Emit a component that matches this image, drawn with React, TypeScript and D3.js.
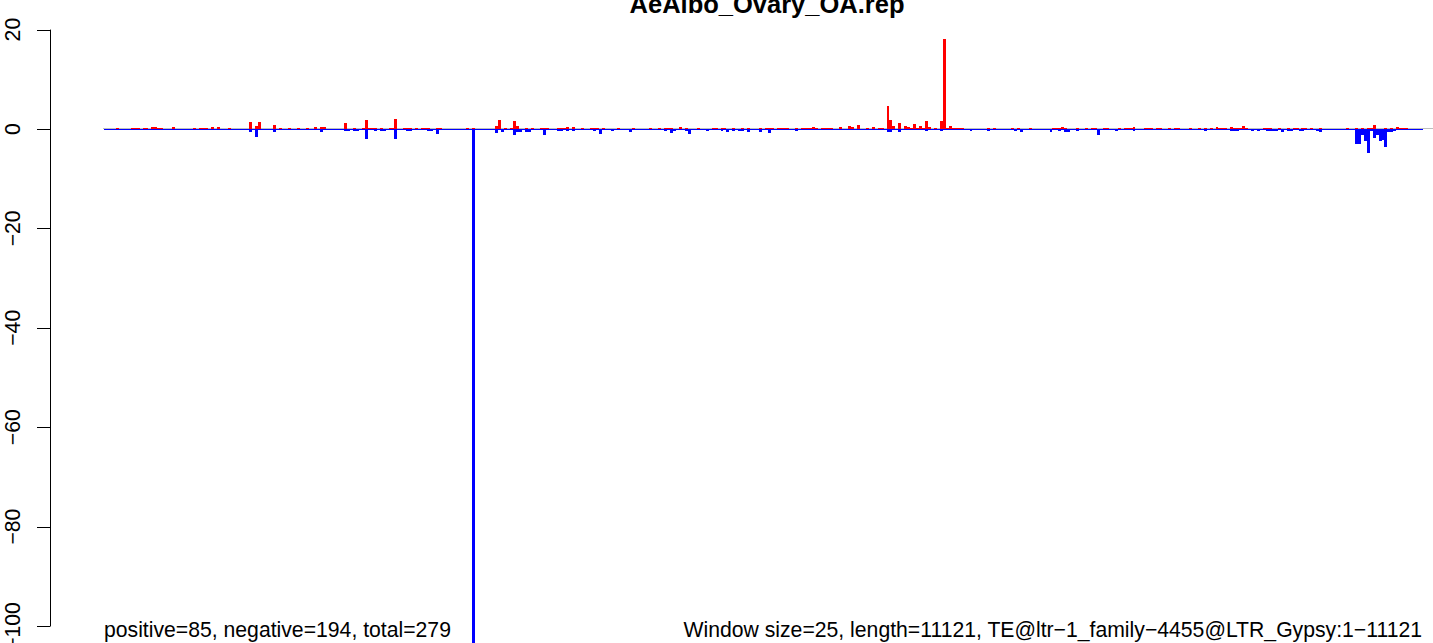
import React from 'react';
import * as d3 from 'd3';

// window index -> value (window size 25, 445 windows)
const posIdx = [4, 9, 10, 11, 13, 14, 16, 17, 18, 19, 23, 30, 32, 33, 34, 36, 38, 42, 49, 51, 52, 57, 59, 62, 65, 68, 71, 73, 74, 81, 84, 87, 88, 89, 90, 91, 93, 96, 97, 98, 101, 102, 103, 105, 107, 108, 109, 112, 113, 122, 124, 132, 133, 135, 137, 138, 139, 142, 144, 147, 148, 149, 153, 154, 155, 156, 158, 161, 164, 165, 166, 168, 173, 178, 184, 187, 189, 190, 191, 194, 196, 200, 205, 206, 208, 209, 212, 215, 217, 221, 223, 224, 225, 227, 228, 229, 230, 233, 235, 236, 237, 238, 239, 240, 242, 243, 244, 245, 248, 251, 252, 254, 257, 259, 261, 262, 264, 265, 266, 268, 270, 271, 272, 273, 274, 275, 276, 277, 278, 280, 282, 283, 284, 285, 286, 287, 288, 289, 298, 300, 306, 308, 312, 320, 321, 322, 323, 324, 328, 331, 333, 334, 337, 338, 342, 344, 345, 346, 347, 351, 352, 353, 355, 356, 359, 361, 362, 366, 369, 371, 373, 375, 376, 377, 378, 380, 381, 382, 383, 384, 385, 391, 392, 393, 396, 399, 401, 402, 404, 405, 407, 410, 419, 422, 424, 426, 427, 428, 432, 434, 436, 437, 438, 439];
const posVal = [0.3, 0.2, 0.2, 0.2, 0.2, 0.2, 0.4, 0.4, 0.2, 0.2, 0.4, 0.2, 0.3, 0.3, 0.3, 0.4, 0.4, 0.3, 1.4, 0.6, 1.4, 0.8, 0.2, 0.2, 0.2, 0.2, 0.4, 0.4, 0.4, 1.2, 0.2, 0.3, 1.8, 0.2, 0.2, 0.2, 0.2, 0.2, 0.2, 2.0, 0.2, 0.2, 0.2, 0.2, 0.2, 0.2, 0.2, 0.3, 0.3, 0.2, 0.2, 0.6, 1.8, 0.2, 0.2, 1.6, 0.6, 0.2, 0.2, 0.2, 0.2, 0.2, 0.2, 0.2, 0.2, 0.4, 0.4, 0.2, 0.2, 0.2, 0.2, 0.2, 0.2, 0.2, 0.2, 0.2, 0.2, 0.2, 0.2, 0.4, 0.2, 0.2, 0.2, 0.2, 0.2, 0.2, 0.2, 0.2, 0.2, 0.2, 0.2, 0.2, 0.2, 0.2, 0.2, 0.2, 0.2, 0.2, 0.2, 0.2, 0.2, 0.2, 0.4, 0.2, 0.2, 0.2, 0.2, 0.2, 0.4, 0.6, 0.4, 0.8, 0.2, 0.4, 0.2, 0.2, 4.6, 1.8, 0.6, 1.2, 0.6, 0.4, 0.2, 1.0, 0.2, 0.6, 0.2, 1.6, 0.4, 0.2, 1.6, 18.1, 0.2, 0.6, 0.2, 0.2, 0.2, 0.2, 0.2, 0.2, 0.2, 0.2, 0.2, 0.2, 0.2, 0.2, 0.4, 0.2, 0.2, 0.2, 0.2, 0.2, 0.2, 0.2, 0.2, 0.2, 0.2, 0.2, 0.4, 0.2, 0.2, 0.2, 0.2, 0.2, 0.2, 0.2, 0.2, 0.2, 0.2, 0.2, 0.2, 0.4, 0.2, 0.2, 0.2, 0.4, 0.2, 0.2, 0.2, 0.6, 0.2, 0.2, 0.2, 0.2, 0.2, 0.2, 0.2, 0.2, 0.2, 0.2, 0.2, 0.2, 0.2, 0.2, 0.2, 0.2, 0.2, 0.8, 0.2, 0.2, 0.4, 0.2, 0.2, 0.2];

const negIdx = [11, 13, 28, 33, 49, 51, 52, 57, 68, 73, 81, 82, 84, 85, 88, 91, 93, 94, 98, 102, 103, 109, 110, 112, 114, 124, 132, 134, 138, 139, 140, 142, 143, 148, 153, 154, 156, 158, 165, 167, 171, 177, 189, 191, 192, 196, 197, 203, 208, 210, 212, 214, 215, 217, 221, 224, 233, 264, 265, 268, 277, 282, 283, 292, 298, 307, 309, 319, 322, 324, 325, 328, 335, 341, 347, 356, 371, 380, 381, 382, 387, 389, 392, 393, 394, 395, 397, 399, 400, 403, 404, 409, 410, 415, 416, 421, 422, 423, 424, 425, 426, 427, 428, 429, 430, 431, 432, 433, 434, 435];
const negVal = [-0.3, -0.3, -0.3, -0.3, -0.6, -1.6, -0.2, -0.6, -0.3, -0.6, -0.4, -0.4, -0.4, -0.4, -2.0, -0.4, -0.4, -0.4, -2.0, -0.4, -0.4, -0.4, -0.4, -1.0, -0.2, -104, -0.8, -0.6, -1.2, -0.6, -0.6, -0.6, -0.6, -1.2, -0.4, -0.4, -0.4, -0.4, -0.4, -1.0, -0.4, -0.6, -0.4, -0.8, -0.4, -0.4, -1.0, -0.4, -0.4, -0.6, -0.4, -0.4, -0.4, -0.6, -0.6, -0.8, -0.4, -0.6, -0.6, -0.6, -0.4, -0.4, -0.2, -0.4, -0.4, -0.4, -0.6, -0.6, -0.4, -0.6, -0.6, -0.4, -1.2, -0.4, -0.4, -0.2, -0.4, -0.4, -0.4, -0.4, -0.4, -0.4, -0.4, -0.4, -0.4, -0.4, -0.6, -0.4, -0.4, -0.4, -0.4, -0.4, -0.6, -0.3, -0.3, -0.2, -3.0, -3.0, -1.2, -2.4, -4.8, -0.4, -1.8, -1.2, -2.4, -2.2, -3.6, -0.6, -0.6, -0.4];

const yTicks = [20, 0, -20, -40, -60, -80, -100];
const nWindows = 445;
const title = 'AeAlbo_Ovary_OA.rep';
const leftNote = 'positive=85, negative=194, total=279';
const rightNote = 'Window size=25, length=11121, TE@ltr\u22121_family\u22124455@LTR_Gypsy:1\u221211121';

const W = 1433;
const H = 643;
const font = '"Liberation Sans", Arial, Helvetica, sans-serif';

export default function App() {
  const x = d3.scaleLinear().domain([0, nWindows]).range([104, 1423]);
  const y = d3.scaleLinear().domain([-100, 20]).range([626, 29.6]);
  const y0 = y(0);
  const bw = x(1) - x(0);

  return (
    <svg
      width={W}
      height={H}
      style={{ position: 'absolute', left: 0, top: 0, background: '#fff' }}
      fontFamily={font}
    >
      <rect width={W} height={H} fill='#fff' />
      {/* zero line */}
      <line x1={103} x2={W} y1={y0 - 0.5} y2={y0 - 0.5} stroke='#BEBEBE' strokeWidth={1} />
      {/* faint negative floor along every window */}
      <line x1={x(0)} x2={x(nWindows)} y1={y0 + 0.5} y2={y0 + 0.5} stroke='#0000FF' strokeWidth={1} />
      <g shapeRendering='crispEdges'>
        {posIdx.map((d, i) => (
          <rect key={'p' + i} x={x(d)} width={bw} y={y(posVal[i])} height={y0 - y(posVal[i])} fill='#FF0000' />
        ))}
        {negIdx.map((d, i) => (
          <rect key={'n' + i} x={x(d)} width={bw} y={y0} height={y(negVal[i]) - y0} fill='#0000FF' />
        ))}
      </g>
      {/* y axis */}
      <g stroke='#000' strokeWidth={1}>
        <line x1={50.5} x2={50.5} y1={y(20)} y2={y(-100)} />
        {yTicks.map((t) => (
          <line key={t} x1={37} x2={50.5} y1={Math.round(y(t)) + 0.5} y2={Math.round(y(t)) + 0.5} />
        ))}
      </g>
      {yTicks.map((t) => (
        <text
          key={'l' + t}
          transform={`translate(20,${y(t)}) rotate(-90)`}
          textAnchor='middle'
          fontSize={21.2}
          fill='#000'
        >
          {t < 0 ? '\u2212' + Math.abs(t) : String(t)}
        </text>
      ))}
      <text x={767} y={13} textAnchor='middle' fontSize={25.5} fontWeight='bold' fill='#000'>
        {title}
      </text>
      <text x={104} y={637} fontSize={21.2} fill='#000'>
        {leftNote}
      </text>
      <text x={1422} y={637} textAnchor='end' fontSize={21.2} fill='#000'>
        {rightNote}
      </text>
    </svg>
  );
}
